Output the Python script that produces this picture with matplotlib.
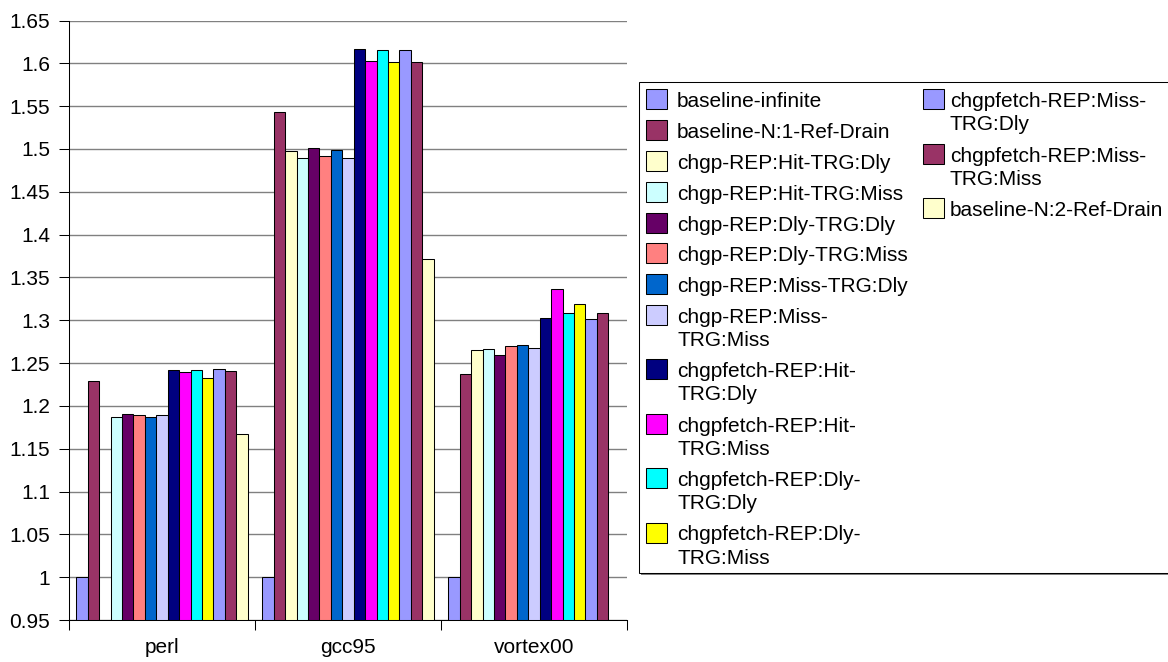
import numpy as np
import matplotlib
matplotlib.use("Agg")
import matplotlib.pyplot as plt
from matplotlib.patches import Rectangle

# ---- data -------------------------------------------------------------
benchmarks = ["perl", "gcc95", "vortex00"]

series_labels = [
    "baseline-infinite",
    "baseline-N:1-Ref-Drain",
    "chgp-REP:Hit-TRG:Dly",
    "chgp-REP:Hit-TRG:Miss",
    "chgp-REP:Dly-TRG:Dly",
    "chgp-REP:Dly-TRG:Miss",
    "chgp-REP:Miss-TRG:Dly",
    "chgp-REP:Miss-\nTRG:Miss",
    "chgpfetch-REP:Hit-\nTRG:Dly",
    "chgpfetch-REP:Hit-\nTRG:Miss",
    "chgpfetch-REP:Dly-\nTRG:Dly",
    "chgpfetch-REP:Dly-\nTRG:Miss",
    "chgpfetch-REP:Miss-\nTRG:Dly",
    "chgpfetch-REP:Miss-\nTRG:Miss",
    "baseline-N:2-Ref-Drain",
]

# one value per series, in the order of series_labels (nan = no result)
perl = [1.000, 1.229, np.nan, 1.187, 1.191, 1.189, 1.187, 1.189,
        1.2415, 1.240, 1.2415, 1.232, 1.243, 1.241, 1.167]
gcc95 = [1.000, 1.543, 1.498, 1.490, 1.501, 1.492, 1.499, 1.490,
         1.617, 1.603, 1.616, 1.602, 1.615, 1.602, 1.372]
vortex00 = [1.000, 1.237, 1.265, 1.266, 1.259, 1.270, 1.271, 1.268,
            1.303, 1.336, 1.308, 1.319, 1.302, 1.309, np.nan]

y_ticks = [0.95, 1.0, 1.05, 1.1, 1.15, 1.2, 1.25, 1.3, 1.35, 1.4,
           1.45, 1.5, 1.55, 1.6, 1.65]

colors = ["#9999FF", "#993366", "#FFFFCC", "#CCFFFF", "#660066",
          "#FF8080", "#0066CC", "#CCCCFF", "#000080", "#FF00FF",
          "#00FFFF", "#FFFF00", "#9999FF", "#993366", "#FFFFCC"]

# ---- figure -----------------------------------------------------------
plt.rcParams["font.family"] = ["Liberation Sans", "DejaVu Sans"]
FS = 15

W, H = 1168, 662
fig = plt.figure(figsize=(W / 100, H / 100), dpi=100)


def fx(px):
    return px / W


def fy(py):
    return 1 - py / H


ax = fig.add_axes([fx(69), fy(620), fx(627) - fx(69), fy(20.5) - fy(620)])

values = np.array([perl, gcc95, vortex00], dtype=float)
n_series = len(series_labels)
bar_w = 0.0613
x = np.arange(len(benchmarks))
for k in range(n_series):
    ax.bar(x + (k - (n_series - 1) / 2) * bar_w, values[:, k], bar_w,
           color=colors[k], edgecolor="black", linewidth=0.75, zorder=3)

ax.set_ylim(0.95, 1.65)
ax.set_xlim(-0.5, len(benchmarks) - 0.5)
ax.set_yticks(y_ticks)
ax.set_yticklabels([f"{v:g}" for v in y_ticks], fontsize=FS)
ax.yaxis.grid(True, color="#808080", linewidth=1.0, zorder=0)
ax.set_axisbelow(True)

# category boundaries carry the tick marks, names sit between them
ax.set_xticks(np.arange(len(benchmarks) + 1) - 0.5)
ax.set_xticklabels([])
ax.set_xticks(x, minor=True)
ax.set_xticklabels(benchmarks, minor=True, fontsize=FS)
ax.tick_params(axis="x", which="minor", length=0, pad=13)
ax.tick_params(axis="both", which="major", direction="out", length=7.5,
               width=0.75, color="black")
ax.tick_params(axis="y", pad=6)

for side in ("top", "right"):
    ax.spines[side].set_visible(False)
for side in ("left", "bottom"):
    ax.spines[side].set_linewidth(0.75)
    ax.spines[side].set_color("black")
    ax.spines[side].set_zorder(4)

# ---- legend (two columns: 12 + 3 entries) -----------------------------
box_l, box_t, box_r, box_b = 639, 82, 1185, 573
fig.patches.append(Rectangle((fx(box_l + 2), fy(box_b + 2)),
                             fx(box_r) - fx(box_l), fy(box_t) - fy(box_b),
                             transform=fig.transFigure, facecolor="#808080",
                             edgecolor="none", zorder=1))
fig.patches.append(Rectangle((fx(box_l), fy(box_b)),
                             fx(box_r) - fx(box_l), fy(box_t) - fy(box_b),
                             transform=fig.transFigure, facecolor="white",
                             edgecolor="black", linewidth=0.75, zorder=2))

columns = [(646, 677, range(0, 12)), (923, 950, range(12, 15))]
first_baseline = 107.3
single_step, double_step, line_gap = 30.8, 54.4, 23.0
for patch_x, text_x, idx in columns:
    base = first_baseline
    for k in idx:
        lines = series_labels[k].split("\n")
        fig.patches.append(Rectangle((fx(patch_x), fy(base - 8 + 10)),
                                     fx(21), 20 / H,
                                     transform=fig.transFigure,
                                     facecolor=colors[k], edgecolor="black",
                                     linewidth=0.75, zorder=3))
        for j, line in enumerate(lines):
            fig.text(fx(text_x), fy(base + j * line_gap), line,
                     fontsize=FS, ha="left", va="baseline", zorder=4)
        base += single_step if len(lines) == 1 else double_step

fig.savefig("out.png", dpi=100)
